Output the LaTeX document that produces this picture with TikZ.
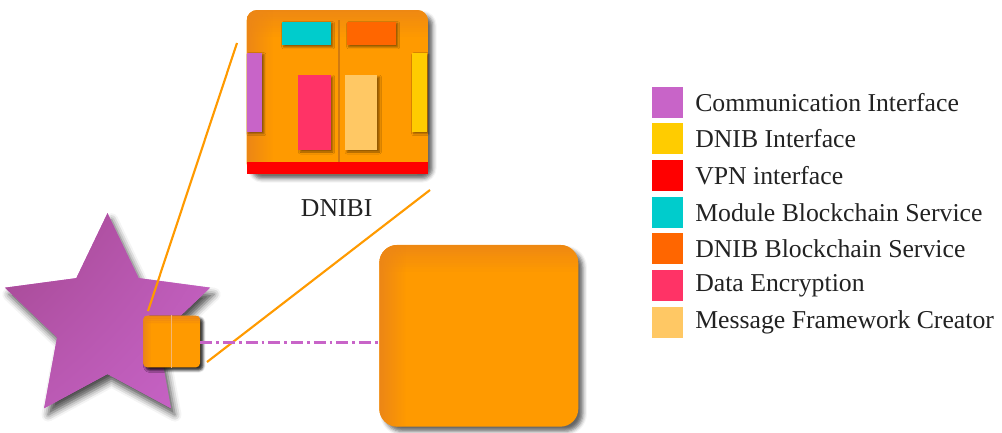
\documentclass[tikz,border=0pt]{standalone}
\usepackage{fontspec}
\setmainfont{Liberation Serif}
\usetikzlibrary{shadows.blur,shapes.geometric,shadings,fadings}
\definecolor{ciC}{HTML}{C864C8}
\definecolor{diC}{HTML}{FFCC00}
\definecolor{vpnC}{HTML}{FF0000}
\definecolor{mbsC}{HTML}{00CCCC}
\definecolor{dbsC}{HTML}{FF6600}
\definecolor{deC}{HTML}{FF3366}
\definecolor{mfcC}{HTML}{FFC864}
\definecolor{boxLight}{HTML}{FF9A00}
\definecolor{boxDark}{HTML}{EC8616}
\definecolor{divC}{HTML}{D07A10}
\definecolor{starOut}{HTML}{A2468E}
\definecolor{txtC}{HTML}{222222}
\tikzfading[name=fadeLeft, left color=transparent!0, right color=transparent!100]
\begin{document}
\begin{tikzpicture}[x=0.75pt,y=-0.75pt,
  lbl/.style={font=\fontsize{19.3}{22}\selectfont, text=txtC, inner sep=0pt},
  legsq/.style={minimum width=23.25pt, minimum height=23.25pt, inner sep=0pt, draw=none},
  part/.style={inner sep=0pt, draw=none, blur shadow={shadow xshift=1.5pt, shadow yshift=-1.5pt, shadow blur radius=1.5pt, shadow opacity=45}},
  orangebox/.style={inner sep=0pt, fill=boxLight,
     path picture={
       \foreach \k in {0,...,11}{
         \fill[sharp corners, boxDark, opacity={0.85*(1-\k/12)}]
           ([yshift={-\k*#1/12}]path picture bounding box.north west) rectangle
           ([yshift={-(\k+1)*#1/12}]path picture bounding box.north east);}
       \fill[sharp corners, boxDark, path fading=fadeLeft] (path picture bounding box.north west) rectangle ([xshift=#1]path picture bounding box.south west);
     },
     blur shadow={shadow xshift=3.5pt, shadow yshift=-3.5pt, shadow blur radius=3pt, shadow opacity=60}},
  orangebox/.default=20pt,
  zoomline/.style={draw=boxLight, line width=1.6pt},
]
\useasboundingbox (0,0) rectangle (1002,432);

% star
\begin{scope}[shift={(107.5,321)}]
\path[blur shadow={shadow xshift=3pt, shadow yshift=-5pt, shadow blur radius=5pt, shadow opacity=70},
      fill=ciC,
      path picture={\shade[upper left=starOut, upper right=ciC!70!starOut, lower left=ciC!60!starOut, lower right=ciC]
        (path picture bounding box.north west) rectangle (path picture bounding box.south east);}]
  (-90:107.8) -- (-54:53) -- (-18:107.8) -- (18:53) -- (54:107.8) -- (90:53)
  -- (126:107.8) -- (162:53) -- (198:107.8) -- (234:53) -- cycle;
\end{scope}

% DNIBI box
\node[orangebox, rounded corners=8pt, minimum width=136pt, minimum height=123pt] (dnibi) at (337.3,92) {};
\node[inner sep=0pt, fill=vpnC, minimum width=136pt, minimum height=9pt] (vpn) at (337.3,168) {};
\coordinate (divtop) at (339.3,20);
\draw[divC, line width=1.5pt] (divtop) -- (divtop |- vpn.north);
\node[part, fill=mbsC, minimum width=36.75pt, minimum height=17.5pt] (mbs) at (306.2,33.3) {};
\node[part, fill=dbsC, minimum width=36.75pt, minimum height=17.5pt] (dbs) at (371.2,33.3) {};
\node[part, fill=ciC, minimum width=11.5pt, minimum height=59.25pt] (ci) at (254.3,92.2) {};
\node[part, fill=diC, minimum width=11.25pt, minimum height=59.25pt] (di) at (419.2,92.2) {};
\node[part, fill=deC, minimum width=24.3pt, minimum height=56.25pt] (de) at (314.5,112.5) {};
\node[part, fill=mfcC, minimum width=24.3pt, minimum height=56.25pt] (mfc) at (361.2,112.5) {};
\node[lbl] (dnibilbl) at (336.7,208) {DNIBI};

% small module square
\node[orangebox=6pt, rounded corners=3pt, minimum width=42.5pt, minimum height=38.7pt,
      blur shadow={shadow xshift=2pt, shadow yshift=-2pt, shadow blur radius=2pt}] (sq) at (171.7,341.5) {};
\draw[draw=boxDark!60!white, line width=0.8pt] (sq.north) -- (sq.south);

% big box
\node[orangebox, rounded corners=13.5pt, minimum width=149.25pt, minimum height=136.3pt] (big) at (478.8,335.8) {};

% zoom lines
\coordinate (z1a) at (237,43);
\coordinate (z1b) at (148,311);
\coordinate (z2a) at (430,190);
\coordinate (z2b) at (207,362);
\draw[zoomline] (z1a) -- (z1b);
\draw[zoomline] (z2a) -- (z2b);

% dash-dot link
\draw[ciC, line width=2pt, dash pattern=on 9pt off 3pt on 2pt off 3pt] (sq.east |- 0,342.7) -- (big.west |- 0,342.7);

% legend
\foreach \i/\c/\t in {0/ciC/Communication Interface,1/diC/DNIB Interface,2/vpnC/VPN interface,3/mbsC/Module Blockchain Service,4/dbsC/DNIB Blockchain Service,5/deC/Data Encryption,6/mfcC/Message Framework Creator}{
  \node[legsq, fill=\c] (leg\i) at (667.2,{102.3+36.67*\i}) {};
  \node[lbl, anchor=west] (legt\i) at (695,{102.3+36.67*\i}) {\t};
}
\end{tikzpicture}
\end{document}
